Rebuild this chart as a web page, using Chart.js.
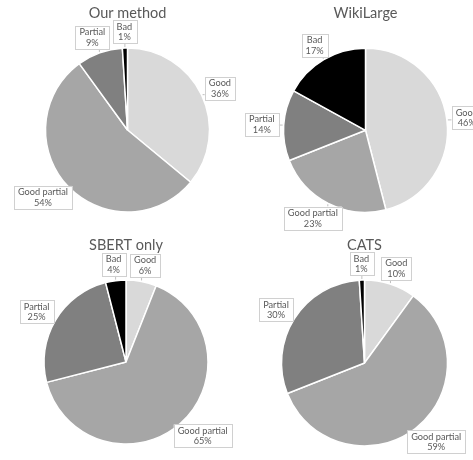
<!DOCTYPE html>
<html>
<head>
<meta charset="utf-8">
<script src="https://cdn.jsdelivr.net/npm/chart.js@4"></script>
<style>
  body { margin: 0; background: #fff; width: 473px; height: 460px; position: relative; overflow: hidden; }
  canvas { position: absolute; }
</style>
</head>
<body>
<canvas id="pie0" width="236" height="240" style="left:0;top:0"></canvas>
<canvas id="pie1" width="237" height="240" style="left:236px;top:0"></canvas>
<canvas id="pie2" width="236" height="230" style="left:0;top:230px"></canvas>
<canvas id="pie3" width="237" height="230" style="left:236px;top:230px"></canvas>
<script>
// categories and values (percent)
const categories = ['Good', 'Good partial', 'Partial', 'Bad'];
const titles = ['Our method', 'WikiLarge', 'SBERT only', 'CATS'];
const ourMethod = [36, 54, 9, 1];
const wikiLarge = [46, 23, 14, 17];
const sbertOnly = [6, 65, 25, 4];
const cats = [10, 59, 30, 1];
const seriesList = [ourMethod, wikiLarge, sbertOnly, cats];

const sliceColors = ['#d9d9d9', '#a6a6a6', '#808080', '#000000'];

// where each pie sits inside its canvas: centre and radius
const layouts = [
  { cx: 127.5, cy: 130, r: 82 },
  { cx: 129.5, cy: 130.3, r: 82 },
  { cx: 126, cy: 132, r: 82 },
  { cx: 128.5, cy: 133, r: 83 }
];

const textColor = '#595959';
const labelFont = '9.2px Lato';
const titleFont = '14.5px Lato';

// draws title and Excel-like callout boxes
const calloutPlugin = {
  id: 'callouts',
  afterDatasetsDraw(chart) {
    const ctx = chart.ctx;
    const meta = chart.getDatasetMeta(0);
    const values = chart.data.datasets[0].data;
    const total = values.reduce((a, b) => a + b, 0);
    const opts = chart.options.plugins.callouts;

    ctx.save();
    ctx.fillStyle = textColor;
    ctx.font = titleFont;
    ctx.textAlign = 'center';
    ctx.textBaseline = 'middle';
    const first = meta.data[0];
    ctx.fillText(opts.title, first.x, first.y - first.outerRadius - 35);

    ctx.font = labelFont;
    meta.data.forEach((arc, i) => {
      const mid = (arc.startAngle + arc.endAngle) / 2;
      const dx = Math.cos(mid), dy = Math.sin(mid);
      const lines = [chart.data.labels[i], Math.round(values[i] / total * 100) + '%'];
      const w = Math.max(...lines.map(t => ctx.measureText(t).width)) + 8;
      const h = 23;
      const ax = arc.x + dx * (arc.outerRadius + 3);
      const ay = arc.y + dy * (arc.outerRadius + 3);
      const bx = ax + dx * w / 2 + dx * 2;
      const by = ay + dy * h / 2 + dy * 2;
      const left = bx - w / 2, top = by - h / 2;

      // leader from slice edge to closest point of the box
      const ex = arc.x + dx * (arc.outerRadius + 1);
      const ey = arc.y + dy * (arc.outerRadius + 1);
      const px = Math.min(Math.max(ex, left), left + w);
      const py = Math.min(Math.max(ey, top), top + h);
      ctx.strokeStyle = '#bfbfbf';
      ctx.lineWidth = 1;
      if (Math.hypot(px - ex, py - ey) > 1.5) {
        ctx.beginPath();
        ctx.moveTo(ex, ey);
        ctx.lineTo(px, py);
        ctx.stroke();
      }
      ctx.fillStyle = '#ffffff';
      ctx.fillRect(left, top, w, h);
      ctx.strokeStyle = '#d0d0d0';
      ctx.strokeRect(Math.round(left) + 0.5, Math.round(top) + 0.5, Math.round(w), h);
      ctx.fillStyle = textColor;
      ctx.fillText(lines[0], bx, by - 5);
      ctx.fillText(lines[1], bx, by + 5.5);
    });
    ctx.restore();
  }
};

seriesList.forEach((series, k) => {
  const canvas = document.getElementById('pie' + k);
  const L = layouts[k];
  const bw = 1.5;
  new Chart(canvas, {
    type: 'pie',
    data: {
      labels: categories,
      datasets: [{
        data: series,
        backgroundColor: sliceColors,
        borderColor: '#ffffff',
        borderWidth: bw
      }]
    },
    options: {
      responsive: false,
      animation: false,
      layout: {
        padding: {
          left: L.cx - L.r - bw / 2,
          right: canvas.width - (L.cx + L.r + bw / 2),
          top: L.cy - L.r - bw / 2,
          bottom: canvas.height - (L.cy + L.r + bw / 2)
        }
      },
      plugins: {
        legend: { display: false },
        tooltip: { enabled: false },
        title: { display: false },
        callouts: { title: titles[k] }
      }
    },
    plugins: [calloutPlugin]
  });
});
</script>
</body>
</html>
